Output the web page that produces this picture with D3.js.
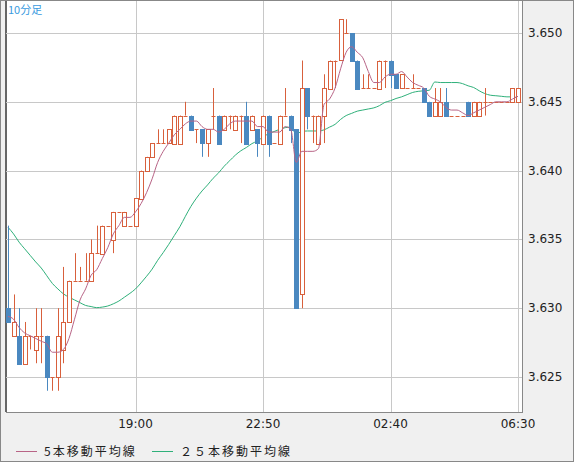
<!DOCTYPE html>
<html><head><meta charset="utf-8">
<script src="https://cdn.jsdelivr.net/npm/d3@7"></script>
<style>body{margin:0;background:#f0f0f0}svg{display:block;font-family:"DejaVu Sans",sans-serif}</style>
</head><body><svg id="c" width="574" height="462"></svg>
<script>
const open  = [3630,3628,3628,3626,3628,3627,3628,3628,3625,3625,3627,3629,3632,3632,3632,3632,3634,3634,3636,3635,3637,3636,3636,3636,3638,3640,3641,3642,3642,3642,3642,3642,3644,3644,3643,3643,3642,3644,3644,3643,3644,3643,3644,3644,3643,3643,3642,3644,3642,3642,3644,3644,3643,3631,3646,3644,3642,3644,3646,3648,3648,3650,3650,3648,3646,3646,3646,3646,3648,3648,3647,3646,3646,3646,3646,3646,3645,3644,3644,3645,3644,3644,3644,3645,3644,3644,3645,3645,3645,3645,3645,3645,3645];
const high  = [3636,3631,3630,3629,3628,3630,3630,3628,3625,3630,3633,3632,3634,3633,3634,3635,3636,3636,3636,3637,3637,3637,3636,3638,3640,3641,3642,3643,3643,3643,3644,3644,3645,3644,3643,3643,3643,3646,3644,3644,3644,3644,3644,3645,3644,3643,3644,3644,3642,3644,3646,3644,3643,3648,3646,3644,3644,3647,3648,3648,3651,3651,3650,3648,3647,3647,3646,3648,3648,3648,3647,3647,3646,3647,3646,3646,3645,3646,3646,3646,3644,3644,3644,3645,3645,3645,3646,3645,3645,3645,3645,3646,3646];
const low   = [3629,3628,3626,3626,3627,3626,3626,3624,3624,3624,3626,3629,3632,3632,3632,3632,3634,3634,3636,3634,3637,3636,3636,3636,3638,3640,3641,3642,3642,3642,3642,3642,3644,3643,3642,3641,3641,3643,3642,3643,3643,3643,3642,3642,3643,3641,3642,3641,3642,3642,3644,3642,3630,3630,3643,3642,3642,3642,3646,3646,3648,3650,3648,3646,3646,3646,3646,3646,3646,3646,3646,3646,3646,3646,3646,3645,3644,3644,3644,3644,3644,3644,3644,3644,3644,3644,3644,3645,3645,3645,3645,3645,3645];
const close = [3629,3629,3626,3628,3628,3628,3628,3625,3625,3628,3629,3632,3632,3632,3632,3634,3634,3636,3636,3637,3637,3637,3636,3638,3640,3641,3642,3642,3642,3643,3644,3644,3644,3643,3643,3642,3643,3644,3642,3644,3644,3644,3644,3642,3644,3642,3644,3642,3642,3644,3644,3643,3630,3646,3644,3644,3644,3646,3648,3648,3651,3650,3648,3646,3646,3646,3646,3648,3648,3647,3646,3647,3646,3646,3646,3645,3644,3645,3645,3644,3644,3644,3644,3644,3645,3645,3645,3645,3645,3645,3645,3646,3646];
const priorCloses = [3641,3641,3640,3640,3640,3639,3639,3639,3638,3638,3638,3637,3637,3637,3636,3636,3635,3634,3633,3632,3630,3629,3630,3629];
const yTicks = [3.625,3.630,3.635,3.640,3.645,3.650];
const xTickLabels = [[23,"19:00"],[46,"22:50"],[69,"02:40"],[92,"06:30"]];
const legend = [["5本移動平均線","#b86486"],["２５本移動平均線","#2fb07a"]];

const svg=d3.select("#c");
const L=6,R=522,T=1,B=412;
svg.append("rect").attr("x",0.5).attr("y",0.5).attr("width",573).attr("height",461).attr("fill","#f0f0f0").attr("stroke","#888");
svg.append("rect").attr("x",L).attr("y",T).attr("width",R-L).attr("height",B-T).attr("fill","#fff");
svg.append("line").attr("x1",L).attr("x2",L).attr("y1",T).attr("y2",B).attr("stroke","#666").attr("stroke-width",2);
const n=open.length;
const x=d3.scaleLinear().domain([0,n-1]).range([8,518]);
const y=d3.scaleLinear().domain([3.625,3.650]).range([377,33]);
const P=v=>y(v/1000);
const g=svg.append("g");
yTicks.forEach(t=>g.append("line").attr("x1",L).attr("x2",R).attr("y1",Math.round(y(t))+0.5).attr("y2",Math.round(y(t))+0.5).attr("stroke","#c8c8c8"));
xTickLabels.forEach(([i])=>g.append("line").attr("x1",Math.round(x(i))+0.5).attr("x2",Math.round(x(i))+0.5).attr("y1",T).attr("y2",B).attr("stroke","#c8c8c8"));
svg.append("line").attr("x1",L).attr("x2",R+1).attr("y1",B+0.5).attr("y2",B+0.5).attr("stroke","#888");
svg.append("line").attr("x1",R+0.5).attr("x2",R+0.5).attr("y1",0).attr("y2",B).attr("stroke","#888");
// MAs
const all=priorCloses.concat(close);
function ma(p){return close.map((c,i)=>{const j=i+priorCloses.length;return d3.mean(all.slice(j-p+1,j+1));});}
const line=d3.line().x((d,i)=>x(i)).y(d=>P(d)).curve(d3.curveMonotoneX);
svg.append("path").attr("d",line(ma(25))).attr("fill","none").attr("stroke","#2fb07a").attr("stroke-width",1);
// candles
const red="#d8603c",blue="#4a88c0";
for(let i=0;i<n;i++){
  const up=close[i]>=open[i], cx=Math.round(x(i))+0.5, col=up?red:blue;
  svg.append("line").attr("x1",cx).attr("x2",cx).attr("y1",P(high[i])).attr("y2",P(low[i])).attr("stroke",col);
  const t=P(Math.max(open[i],close[i])), b=P(Math.min(open[i],close[i]));
  if(t===b){svg.append("line").attr("x1",cx-2).attr("x2",cx+2).attr("y1",Math.round(t)+0.5).attr("y2",Math.round(t)+0.5).attr("stroke",col);}
  else if(up){svg.append("rect").attr("x",cx-2).attr("y",Math.round(t)+0.5).attr("width",4).attr("height",Math.round(b-t)).attr("fill","#fff").attr("stroke",col);}
  else{svg.append("rect").attr("x",cx-2.5).attr("y",Math.round(t)).attr("width",5).attr("height",Math.round(b-t)+1).attr("fill",col);}
}
svg.append("path").attr("d",line(ma(5))).attr("fill","none").attr("stroke","#b86486").attr("stroke-width",1);
// axes labels
yTicks.forEach(t=>svg.append("text").attr("x",528).attr("y",y(t)+4).attr("font-size",12).attr("fill","#222").text(t.toFixed(3)));
xTickLabels.forEach(([i,s])=>svg.append("text").attr("x",x(i)).attr("y",428).attr("text-anchor","middle").attr("font-size",12).attr("fill","#222").text(s));
svg.append("text").attr("x",8).attr("y",14).attr("font-size",11).attr("fill","#3a9be0").attr("font-family","'Noto Sans CJK JP'").text("10分足");
let lx=16;
legend.forEach(([s,c],k)=>{const ox=k?152:16;
  svg.append("line").attr("x1",ox).attr("x2",ox+21).attr("y1",451.5).attr("y2",451.5).attr("stroke",c);
  svg.append("text").attr("x",ox+28).attr("y",456).attr("font-size",12).attr("letter-spacing",2).attr("fill","#222").attr("font-family","'Noto Sans CJK JP'").text(s);});
</script></body></html>
